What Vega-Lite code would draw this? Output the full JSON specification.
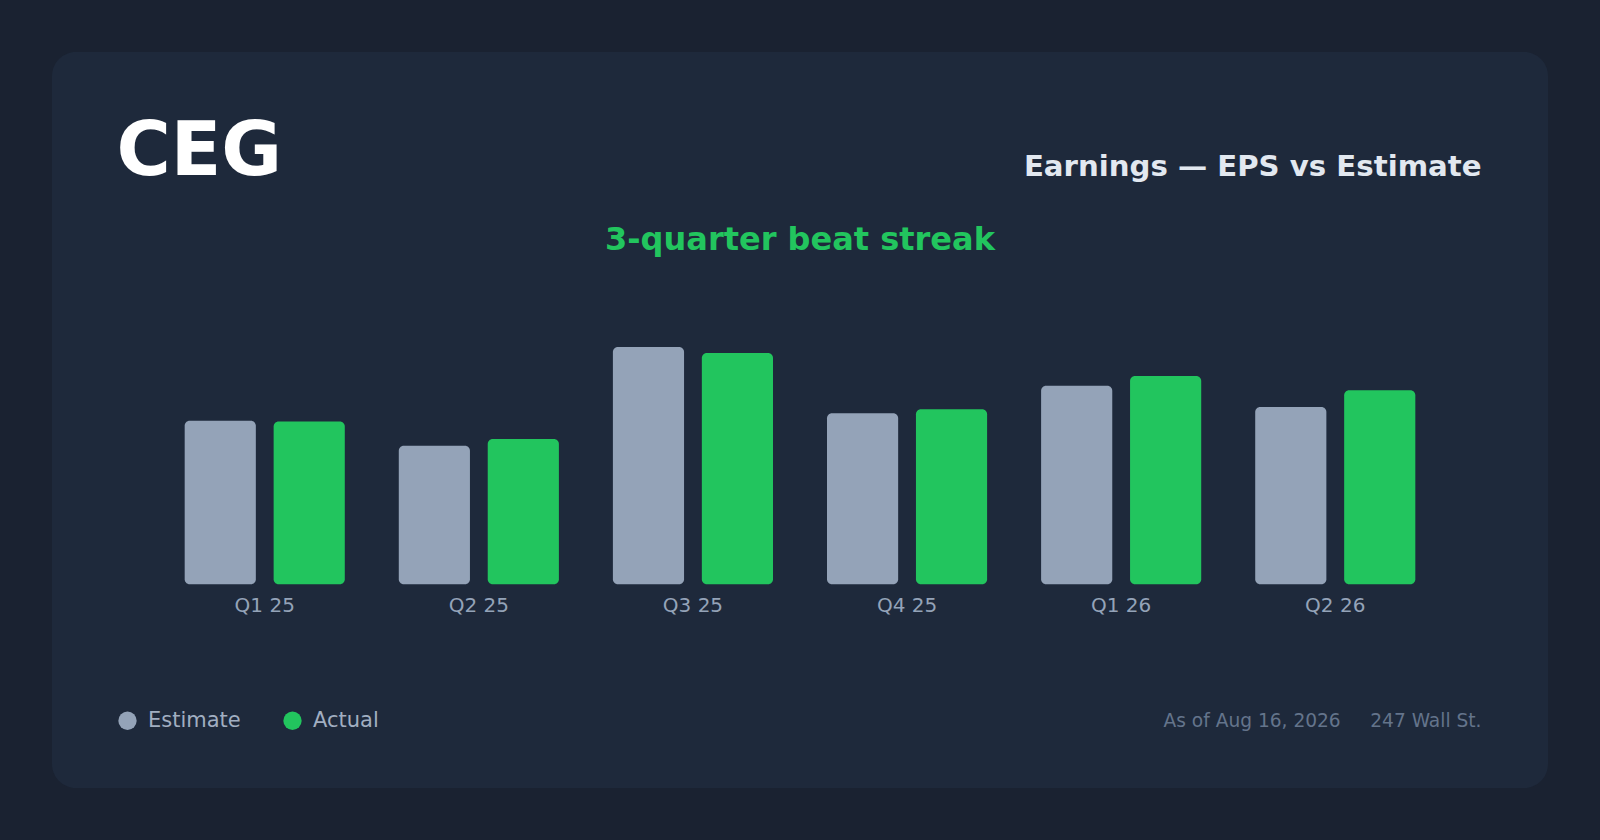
{
  "$schema": "https://vega.github.io/schema/vega-lite/v6.json",
  "description": "CEG quarterly EPS, estimate vs actual.",
  "autosize": {"type": "none"},
  "padding": {"left": 52, "top": 52, "right": 52, "bottom": 52},
  "width": 1496,
  "height": 736,
  "background": "#1a2231",
  "title": {
    "text": "3-quarter beat streak",
    "anchor": "middle",
    "frame": "group",
    "offset": 0,
    "dy": 205,
    "color": "#22c55e",
    "fontSize": 32,
    "fontWeight": "bold"
  },
  "data": {
    "values": [
      {"quarter": "Q1 25", "series": "Estimate", "eps": 2.15},
      {"quarter": "Q1 25", "series": "Actual", "eps": 2.14},
      {"quarter": "Q2 25", "series": "Estimate", "eps": 1.82},
      {"quarter": "Q2 25", "series": "Actual", "eps": 1.91},
      {"quarter": "Q3 25", "series": "Estimate", "eps": 3.12},
      {"quarter": "Q3 25", "series": "Actual", "eps": 3.04},
      {"quarter": "Q4 25", "series": "Estimate", "eps": 2.25},
      {"quarter": "Q4 25", "series": "Actual", "eps": 2.30},
      {"quarter": "Q1 26", "series": "Estimate", "eps": 2.61},
      {"quarter": "Q1 26", "series": "Actual", "eps": 2.74},
      {"quarter": "Q2 26", "series": "Estimate", "eps": 2.33},
      {"quarter": "Q2 26", "series": "Actual", "eps": 2.55}
    ]
  },
  "encoding": {
    "x": {
      "field": "quarter",
      "type": "nominal",
      "sort": null,
      "scale": {"paddingInner": 0.2522, "paddingOuter": 0.6197},
      "axis": {
        "orient": "bottom",
        "offset": -203.8,
        "domain": false,
        "ticks": false,
        "tickSize": 0,
        "grid": false,
        "labelAngle": 0,
        "labelPadding": 11,
        "labelFontSize": 20,
        "labelColor": "#94a3b8",
        "title": "As of Aug 16, 2026\u00a0\u00a0\u00a0\u00a0\u00a0247 Wall St.",
        "titleX": 1429,
        "titleY": 142.5,
        "titleAlign": "right",
        "titleBaseline": "alphabetic",
        "titleFontSize": 18.6,
        "titleFontWeight": "normal",
        "titleColor": "#64748b"
      }
    },
    "xOffset": {
      "field": "series",
      "type": "nominal",
      "scale": {"domain": ["Estimate", "Actual"], "paddingInner": 0.2, "paddingOuter": 0}
    },
    "color": {
      "field": "series",
      "type": "nominal",
      "scale": {"domain": ["Estimate", "Actual"], "range": ["#94a3b8", "#22c55e"]},
      "legend": {
        "orient": "none",
        "legendX": 65,
        "legendY": 658,
        "direction": "horizontal",
        "title": null,
        "padding": 0,
        "symbolType": "circle",
        "symbolSize": 335,
        "symbolStrokeWidth": 0,
        "symbolOpacity": 1,
        "labelFontSize": 21,
        "labelColor": "#a1aec1",
        "labelOffset": 10,
        "columnPadding": 41
      }
    }
  },
  "layer": [
    {
      "transform": [{"filter": "datum.series === 'Estimate'"}],
      "mark": {"type": "bar", "cornerRadius": 5},
      "encoding": {
        "y": {
          "field": "eps",
          "type": "quantitative",
          "scale": {"domain": [-2.68, 7.0], "nice": false, "zero": false},
          "axis": {
            "orient": "left",
            "title": "CEG",
            "labels": false,
            "ticks": false,
            "domain": false,
            "grid": false,
            "titleAngle": 0,
            "titleAlign": "left",
            "titleBaseline": "alphabetic",
            "titleX": 64,
            "titleY": 122,
            "titleFontSize": 74,
            "titleFontWeight": "bold",
            "titleColor": "#ffffff"
          }
        },
        "y2": {"datum": 0}
      }
    },
    {
      "transform": [{"filter": "datum.series === 'Actual'"}],
      "mark": {"type": "bar", "cornerRadius": 5},
      "encoding": {
        "y": {
          "field": "eps",
          "type": "quantitative",
          "scale": {"domain": [-2.68, 7.0], "nice": false, "zero": false},
          "axis": {
            "orient": "right",
            "title": "Earnings — EPS vs Estimate",
            "labels": false,
            "ticks": false,
            "domain": false,
            "grid": false,
            "titleAngle": 0,
            "titleAlign": "right",
            "titleBaseline": "alphabetic",
            "titleX": -67,
            "titleY": 123,
            "titleFontSize": 29.2,
            "titleFontWeight": "bold",
            "titleColor": "#e2e8f0"
          }
        },
        "y2": {"datum": 0}
      }
    }
  ],
  "resolve": {"axis": {"y": "independent"}},
  "config": {
    "font": "DejaVu Sans",
    "view": {"fill": "#1e293b", "stroke": null, "cornerRadius": 24}
  }
}
